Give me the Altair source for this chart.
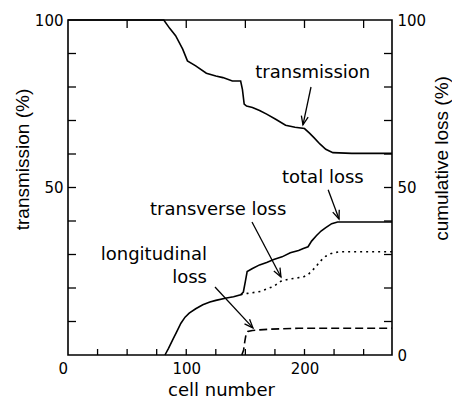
import altair as alt
import pandas as pd
import numpy as np

# ---- data ----
trans_cell = [0, 81, 86, 91, 97, 101, 108, 117, 125, 131, 139, 146, 147.5, 149, 151, 156,
              162, 168, 176, 184, 192, 200, 204, 208, 213, 218, 224, 240, 274]
trans_val = [100, 100, 97.5, 95.3, 91.3, 87.8, 86.3, 84.1, 83.3, 82.8, 81.8, 81.8, 79.3, 74.9,
             74.3, 73.9, 73.0, 71.9, 70.3, 68.6, 68.0, 67.6, 66.3, 64.9, 63.0, 61.4, 60.4, 60.2, 60.2]

total_cell = [82, 85, 88.5, 92, 95.5, 99, 102.5, 108, 114, 120, 125, 134, 140, 146, 148.3, 150,
              151.5, 156, 162, 168, 174, 181, 188, 195, 199, 203, 206, 210, 214, 218, 223, 228, 274]
total_val = [0, 2, 4.5, 7, 9.5, 11.3, 12.5, 13.8, 15, 15.8, 16.3, 17, 17.4, 18, 18.8, 22,
             24.9, 25.8, 26.9, 27.6, 28.5, 29.3, 30.5, 31.2, 31.8, 32.3, 34.0, 35.6, 37.0, 38.0,
             39.2, 39.7, 39.7]

transv_cell = [146, 152, 158, 163, 168, 174, 180, 186, 192, 199, 203, 206, 210, 213, 218, 222,
               226, 230, 274]
transv_val = [18.0, 18.4, 18.7, 19.0, 19.7, 20.5, 22.0, 22.6, 22.9, 23.3, 24.0, 25.0, 26.5,
              27.9, 29.5, 30.2, 30.6, 30.8, 30.8]

long_cell = [147, 148.5, 149.5, 150.5, 152, 156, 162, 170, 180, 195, 210, 274]
long_val = [0, 1.5, 4.0, 6.0, 7.0, 7.3, 7.5, 7.7, 7.8, 8.0, 8.0, 8.0]

# annotation labels
label_text = ["transmission", "total loss", "transverse loss"]
label_x = [207, 215.5, 127]
label_y = [84.2, 52.8, 43.3]
long_label_text = ["longitudinal", "loss"]
long_label_x = [117.5, 117.5]
long_label_y = [30.0, 23.0]

# arrows: start -> tip
arrow_x0 = [205.5, 220.0, 155.6, 124.3]
arrow_y0 = [80.0, 49.3, 39.7, 20.3]
arrow_x1 = [198.7, 229.2, 180.1, 156.4]
arrow_y1 = [68.7, 40.6, 23.3, 8.1]

# tick positions
bottom_ticks = [25, 50, 75, 100, 125, 150, 175, 200, 225, 250]
top_ticks = [50, 100, 150, 200, 250]
side_ticks = [10, 20, 30, 40, 50, 60, 70, 80, 90]

# ---- chart ----
W, H = 324, 335
XMAX = 274
FONT = "DejaVu Sans"
VFONT = "Liberation Sans"

xsc = alt.Scale(domain=[0, XMAX], nice=False, zero=False)
ysc = alt.Scale(domain=[0, 100], nice=False)

x_axis = alt.Axis(
    values=[0, 100, 200], title="cell number", labelPadding=6,
    labelOffset={"condition": {"test": "datum.value == 0", "value": -10}, "value": 0},
    titleX=153, titleY=40, titleAlign="center", titleBaseline="alphabetic",
)
left_axis = alt.Axis(
    values=[0, 50, 100], orient="left", title="transmission (%)",
    labelExpr="datum.value == 0 ? '' : datum.label", labelPadding=5,
    titleFont=VFONT, titleFontSize=19,
    titleX=-40, titleY=139, titleAngle=270, titleAlign="center", titleBaseline="alphabetic",
)
right_axis = alt.Axis(
    values=[0, 50, 100], orient="right", title="cumulative loss (%)", labelPadding=5,
    titleFont=VFONT, titleFontSize=19,
    titleX=59, titleY=138, titleAngle=270, titleAlign="center", titleBaseline="bottom",
)


def X(f):
    return alt.X(f, type="quantitative", scale=xsc, axis=x_axis)


def Y(f, axis=None):
    return alt.Y(f, type="quantitative", scale=ysc, axis=axis)


df_trans = pd.DataFrame({"cell": trans_cell, "v": trans_val})
df_total = pd.DataFrame({"cell": total_cell, "v": total_val})
df_transv = pd.DataFrame({"cell": transv_cell, "v": transv_val})
df_long = pd.DataFrame({"cell": long_cell, "v": long_val})

LW = 1.6
trans_line = alt.Chart(df_trans).mark_line(color="black", strokeWidth=LW).encode(
    x=X("cell"), y=Y("v", left_axis), order="cell:Q")
total_line = alt.Chart(df_total).mark_line(color="black", strokeWidth=LW).encode(
    x=X("cell"), y=Y("v", right_axis), order="cell:Q")
transv_line = alt.Chart(df_transv).mark_line(color="black", strokeWidth=LW, strokeDash=[2, 4]).encode(
    x=X("cell"), y=Y("v"), order="cell:Q")
long_line = alt.Chart(df_long).mark_line(color="black", strokeWidth=LW, strokeDash=[8, 4]).encode(
    x=X("cell"), y=Y("v"), order="cell:Q")

df_lab = pd.DataFrame({"t": label_text, "x": label_x, "y": label_y})
labels = alt.Chart(df_lab).mark_text(font=FONT, fontSize=18, color="black", align="center",
                                     baseline="middle").encode(x=X("x"), y=Y("y"), text="t:N")
df_lab2 = pd.DataFrame({"t": long_label_text, "x": long_label_x, "y": long_label_y})
labels2 = alt.Chart(df_lab2).mark_text(font=FONT, fontSize=18, color="black", align="right",
                                       baseline="middle").encode(x=X("x"), y=Y("y"), text="t:N")

ax0, ay0 = np.array(arrow_x0), np.array(arrow_y0)
ax1, ay1 = np.array(arrow_x1), np.array(arrow_y1)
dxp = (ax1 - ax0) * W / XMAX
dyp = -(ay1 - ay0) * H / 100.0
ang = np.mod(np.degrees(np.arctan2(-dxp, dyp)), 360)
df_arr = pd.DataFrame({"x0": ax0, "y0": ay0, "x1": ax1, "y1": ay1, "ang": ang})
arrows = alt.Chart(df_arr).mark_rule(color="black", strokeWidth=1.3).encode(
    x=X("x0"), y=Y("y0"), x2="x1", y2="y1")
heads = alt.Chart(df_arr).mark_point(shape="M-0.4,-1L0,0L0.4,-1", filled=False, size=300,
                                     color="black", strokeWidth=1.3, opacity=1).encode(
    x=X("x1"), y=Y("y1"), angle=alt.Angle("ang:Q", scale=None))

TL = 8
df_bt = pd.DataFrame({"v": bottom_ticks})
df_tt = pd.DataFrame({"v": top_ticks})
df_st = pd.DataFrame({"v": side_ticks})
bt = alt.Chart(df_bt).mark_rule(color="black", strokeWidth=1.3).encode(
    x=X("v"), y=alt.value(H), y2=alt.value(H - 6))
tt = alt.Chart(df_tt).mark_rule(color="black", strokeWidth=1.3).encode(
    x=X("v"), y=alt.value(0), y2=alt.value(TL))
lt = alt.Chart(df_st).mark_rule(color="black", strokeWidth=1.3).encode(
    y=Y("v"), x=alt.value(0), x2=alt.value(TL))
rt = alt.Chart(df_st).mark_rule(color="black", strokeWidth=1.3).encode(
    y=Y("v"), x=alt.value(W - TL), x2=alt.value(W))

chart = alt.layer(
    trans_line, total_line, transv_line, long_line, labels, labels2, arrows, heads, bt, tt, lt, rt
).resolve_scale(y="independent").properties(
    width=W, height=H,
    autosize=alt.AutoSizeParams(type="none"),
    padding={"left": 60, "top": 12, "right": 60, "bottom": 45},
    background="white",
).configure_view(stroke="black", strokeWidth=1.6).configure_axis(
    ticks=False, domain=False, grid=False,
    labelFont=FONT, labelFontSize=15, labelColor="black",
    titleFont=FONT, titleFontSize=18, titleFontWeight="normal", titleColor="black",
)

chart.save("out.html", embed_options={"renderer": "svg", "actions": False})
